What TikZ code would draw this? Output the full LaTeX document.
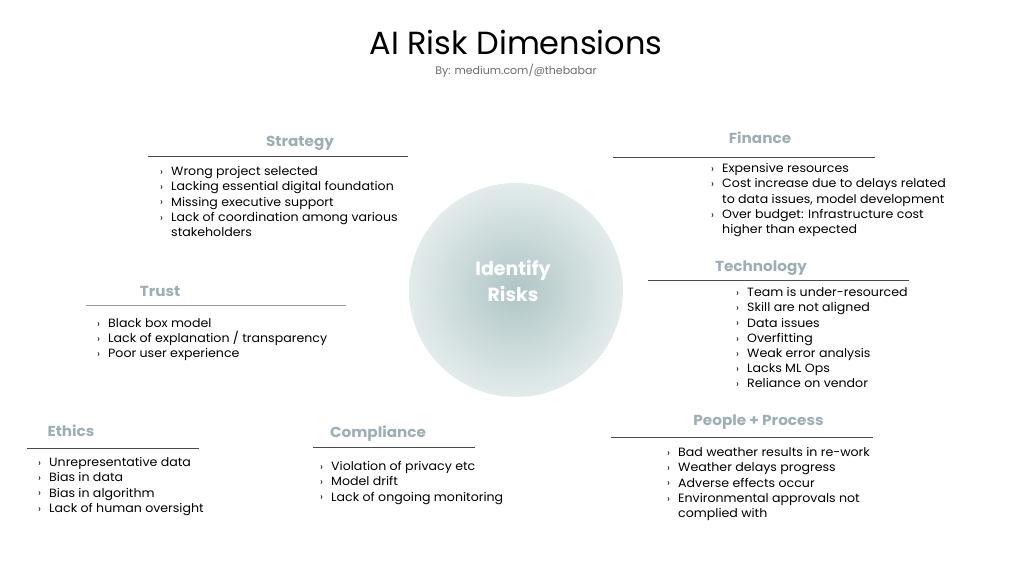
\documentclass[tikz,border=0pt]{standalone}
\usepackage{fontspec}
\setmainfont{Poppins}
\newfontfamily\bodyfont[FakeStretch=1.05]{Poppins}
\definecolor{headc}{HTML}{9DAEB4}
\definecolor{rulec}{HTML}{4A4A4A}
\definecolor{subc}{HTML}{6E6E6E}
\definecolor{inc}{HTML}{AFC5C5}
\definecolor{outc}{HTML}{E3EBEB}
\newcommand{\itm}[1]{\makebox[11pt][l]{\raisebox{0.3pt}{\fontsize{10}{10}\selectfont ›}}#1}
\newcommand{\cnt}{\hspace*{11pt}}
\begin{document}
\begin{tikzpicture}[x=1pt,y=-1pt,
  heading/.style={font=\bodyfont\fontsize{14.5}{16}\selectfont\bfseries, text=headc, inner sep=0pt, anchor=base},
  itemlist/.style={font=\bodyfont\fontsize{12}{15.2}\selectfont, align=left, anchor=north west, inner sep=0pt},
  ruleline/.style={draw=rulec, line width=0.9pt}]
\useasboundingbox (0,0) rectangle (1024,576);
\fill[white] (0,0) rectangle (1024,576);

\node[font=\fontsize{32}{34}\selectfont, inner sep=0pt] (title) at (516,42) {AI Risk Dimensions};
\node[font=\fontsize{11}{13}\selectfont, text=subc, inner sep=0pt] (sub) at (516,71) {By: medium.com/@thebabar};

\shade[inner color=inc, outer color=outc] (516,290) circle (107);
\node[font=\fontsize{19}{26}\selectfont\bfseries, text=white, align=center, inner sep=0pt] (center) at (513,281) {Identify\\Risks};

% Strategy
\node[heading] (strat) at (300,146.5) {Strategy};
\coordinate (s1) at (148,156); \coordinate (s2) at (408,156);
\draw[ruleline] (s1) -- (s2);
\node[itemlist] (stratl) at (160,166.4) {\itm{Wrong project selected}\\\itm{Lacking essential digital foundation}\\\itm{Missing executive support}\\\itm{Lack of coordination among various}\\\cnt stakeholders};

% Finance
\node[heading] (fin) at (760,143.5) {Finance};
\coordinate (f1) at (613,157); \coordinate (f2) at (875,157);
\draw[ruleline] (f1) -- (f2);
\node[itemlist] (finl) at (711,163.4) {\itm{Expensive resources}\\\itm{Cost increase due to delays related}\\\cnt to data issues, model development\\\itm{Over budget: Infrastructure cost}\\\cnt higher than expected};

% Technology
\node[heading] (tech) at (761,271.5) {Technology};
\coordinate (t1) at (648,280); \coordinate (t2) at (909,280);
\draw[ruleline] (t1) -- (t2);
\node[itemlist] (techl) at (736,287.4) {\itm{Team is under-resourced}\\\itm{Skill are not aligned}\\\itm{Data issues}\\\itm{Overfitting}\\\itm{Weak error analysis}\\\itm{Lacks ML Ops}\\\itm{Reliance on vendor}};

% Trust
\node[heading] (trust) at (160,296.5) {Trust};
\coordinate (r1) at (86,305); \coordinate (r2) at (346,305);
\draw[ruleline, draw=gray!80] (r1) -- (r2);
\node[itemlist] (trustl) at (97,318.4) {\itm{Black box model}\\\itm{Lack of explanation / transparency}\\\itm{Poor user experience}};

% Ethics
\node[heading] (eth) at (71,436.5) {Ethics};
\coordinate (e1) at (27,448); \coordinate (e2) at (199,448);
\draw[ruleline] (e1) -- (e2);
\node[itemlist] (ethl) at (38,457.4) {\itm{Unrepresentative data}\\\itm{Bias in data}\\\itm{Bias in algorithm}\\\itm{Lack of human oversight}};

% Compliance
\node[heading] (comp) at (378,437.5) {Compliance};
\coordinate (c1) at (313,447); \coordinate (c2) at (475,447);
\draw[ruleline] (c1) -- (c2);
\node[itemlist] (compl) at (320,461.4) {\itm{Violation of privacy etc}\\\itm{Model drift}\\\itm{Lack of ongoing monitoring}};

% People + Process
\node[heading] (pp) at (758.5,425.5) {People + Process};
\coordinate (p1) at (611,437); \coordinate (p2) at (873,437);
\draw[ruleline] (p1) -- (p2);
\node[itemlist] (ppl) at (667,447.4) {\itm{Bad weather results in re-work}\\\itm{Weather delays progress}\\\itm{Adverse effects occur}\\\itm{Environmental approvals not}\\\cnt complied with};
\end{tikzpicture}
\end{document}
